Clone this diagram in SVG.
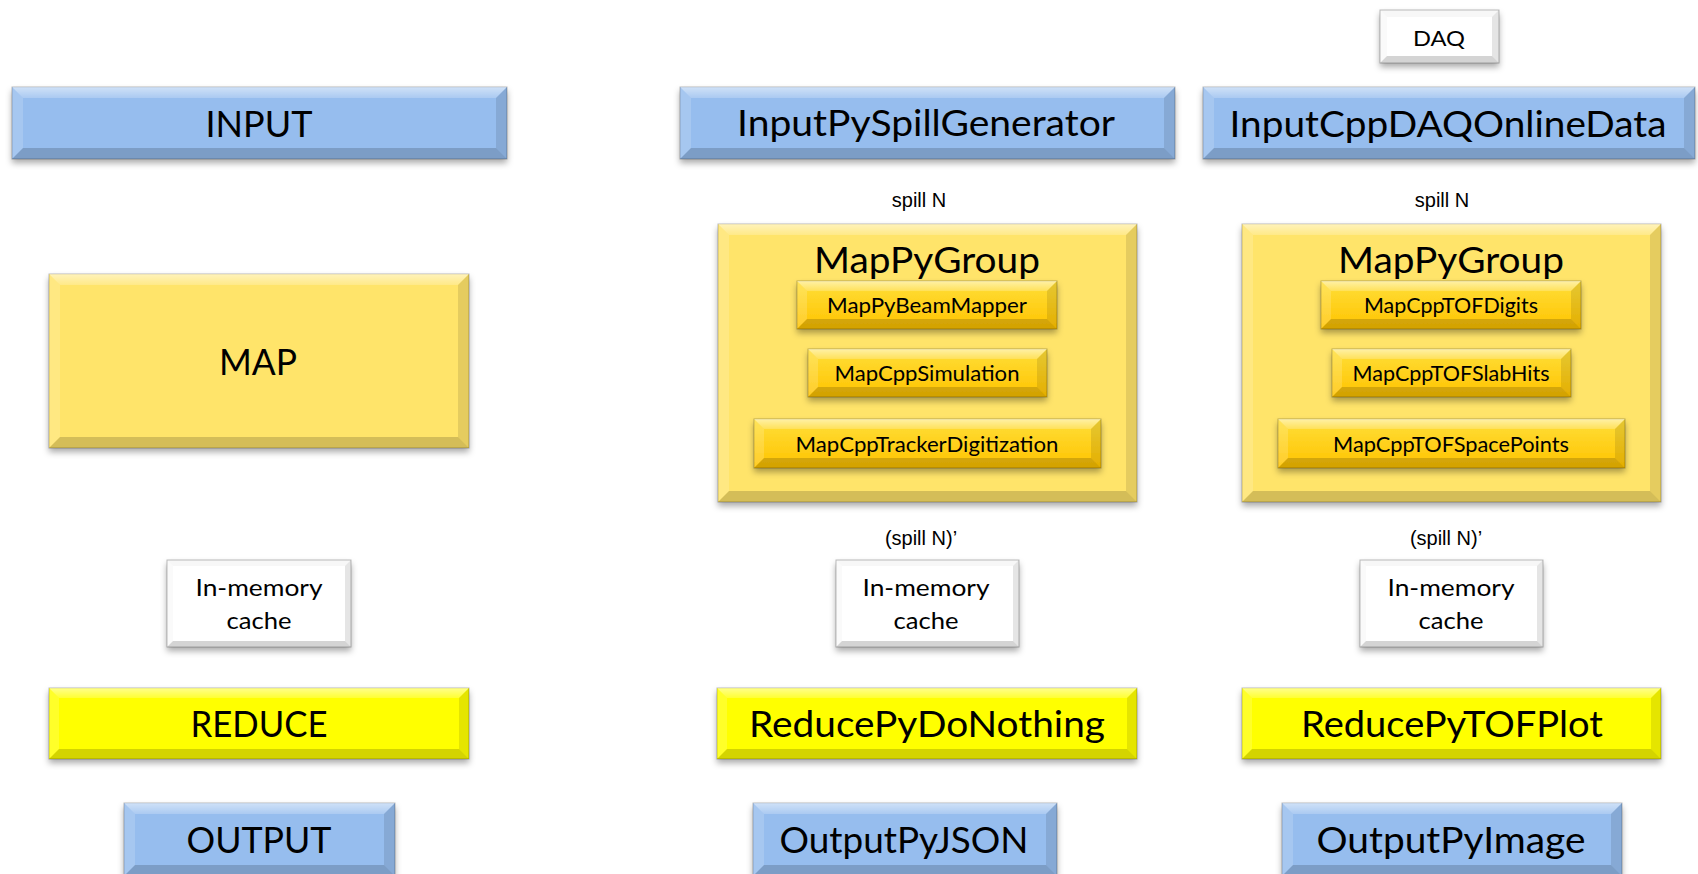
<svg xmlns="http://www.w3.org/2000/svg" width="1698" height="874" viewBox="0 0 1698 874">
<style>
.blue{fill:#96BDEE}
.gold{fill:#FFE46A}
.inner{fill:url(#gInner)}
.yel{fill:#FFFF00}
.white{fill:#FFFFFF}
.base{stroke:#000;stroke-opacity:.25;stroke-width:1;filter:url(#sh)}
.bt{fill:url(#gTop)}
.bl{fill:#fff;opacity:.16}
.br{fill:#000;opacity:.1}
.bb{fill:#000;opacity:.17}
.white-box .bt{fill:#000;opacity:.03}
.white-box .bl{fill:#000;opacity:.02}
.lbl{font-family:Lato,"Open Sans",sans-serif;fill:#000;text-anchor:middle}
.big{font-size:37px}
.sm{font-size:22px}
.mem{font-size:23.5px}
.daq{font-size:21px}
.note{font-family:"Liberation Sans",Arial,sans-serif;font-size:20px;fill:#000;text-anchor:middle}
</style>
<defs>
<linearGradient id="gInner" x1="0" y1="0" x2="0" y2="1">
<stop offset="0" stop-color="#FFDF3A"/>
<stop offset="1" stop-color="#FFC300"/>
</linearGradient>
<linearGradient id="gTop" x1="0" y1="0" x2="0" y2="1">
<stop offset="0" stop-color="#fff" stop-opacity=".55"/>
<stop offset="1" stop-color="#fff" stop-opacity=".2"/>
</linearGradient>
<filter id="sh" x="-10%" y="-20%" width="120%" height="160%">
<feDropShadow dx="0" dy="4" stdDeviation="3" flood-color="#000" flood-opacity="0.33"/>
</filter>
</defs>

<g id="n-input">
<rect class="base blue" x="12" y="87" width="495" height="72"/>
<path class="bt" d="M12,87 h495 l-11,11 h-473 z"/>
<path class="bl" d="M12,87 l11,11 v50 l-11,11 z"/>
<path class="br" d="M507,87 v72 l-11,-11 v-50 z"/>
<path class="bb" d="M12,159 l11,-11 h473 l11,11 z"/>
<text class="lbl big" x="259" y="137" textLength="107" lengthAdjust="spacingAndGlyphs">INPUT</text>
</g>

<g id="n-inputpy">
<rect class="base blue" x="680" y="87" width="495" height="72"/>
<path class="bt" d="M680,87 h495 l-11,11 h-473 z"/>
<path class="bl" d="M680,87 l11,11 v50 l-11,11 z"/>
<path class="br" d="M1175,87 v72 l-11,-11 v-50 z"/>
<path class="bb" d="M680,159 l11,-11 h473 l11,11 z"/>
<text class="lbl big" x="926" y="136" textLength="378" lengthAdjust="spacingAndGlyphs">InputPySpillGenerator</text>
</g>

<g id="n-inputdaq">
<rect class="base blue" x="1203" y="87" width="492" height="72"/>
<path class="bt" d="M1203,87 h492 l-11,11 h-470 z"/>
<path class="bl" d="M1203,87 l11,11 v50 l-11,11 z"/>
<path class="br" d="M1695,87 v72 l-11,-11 v-50 z"/>
<path class="bb" d="M1203,159 l11,-11 h470 l11,11 z"/>
<text class="lbl big" x="1448" y="137" textLength="437" lengthAdjust="spacingAndGlyphs">InputCppDAQOnlineData</text>
</g>

<g id="n-daq" class="white-box">
<rect class="base white" x="1380" y="10" width="119" height="53"/>
<path class="bt" d="M1380,10 h119 l-7,7 h-105 z"/>
<path class="bl" d="M1380,10 l7,7 v39 l-7,7 z"/>
<path class="br" d="M1499,10 v53 l-7,-7 v-39 z"/>
<path class="bb" d="M1380,63 l7,-7 h105 l7,7 z"/>
<text class="lbl daq" x="1439" y="46" textLength="52" lengthAdjust="spacingAndGlyphs">DAQ</text>
</g>

<g id="n-map">
<rect class="base gold" x="49" y="274" width="420" height="174"/>
<path class="bt" d="M49,274 h420 l-11,11 h-398 z"/>
<path class="bl" d="M49,274 l11,11 v152 l-11,11 z"/>
<path class="br" d="M469,274 v174 l-11,-11 v-152 z"/>
<path class="bb" d="M49,448 l11,-11 h398 l11,11 z"/>
<text class="lbl big" x="258" y="375" textLength="78" lengthAdjust="spacingAndGlyphs">MAP</text>
</g>

<g id="n-spill-mid">
<text class="note" x="919" y="207">spill N</text>
</g>
<g id="n-spill-right">
<text class="note" x="1442" y="207">spill N</text>
</g>

<g id="n-group-mid">
<rect class="base gold" x="718" y="224" width="419" height="278"/>
<path class="bt" d="M718,224 h419 l-11,11 h-397 z"/>
<path class="bl" d="M718,224 l11,11 v256 l-11,11 z"/>
<path class="br" d="M1137,224 v278 l-11,-11 v-256 z"/>
<path class="bb" d="M718,502 l11,-11 h397 l11,11 z"/>
<text class="lbl big" x="927" y="273" textLength="226" lengthAdjust="spacingAndGlyphs">MapPyGroup</text>
</g>

<g id="n-beammapper">
<rect class="base inner" x="797" y="281" width="260" height="48"/>
<path class="bt" d="M797,281 h260 l-10,10 h-240 z"/>
<path class="bl" d="M797,281 l10,10 v28 l-10,10 z"/>
<path class="br" d="M1057,281 v48 l-10,-10 v-28 z"/>
<path class="bb" d="M797,329 l10,-10 h240 l10,10 z"/>
<text class="lbl sm" x="927" y="313" textLength="200" lengthAdjust="spacingAndGlyphs">MapPyBeamMapper</text>
</g>

<g id="n-simulation">
<rect class="base inner" x="808" y="349" width="239" height="48"/>
<path class="bt" d="M808,349 h239 l-10,10 h-219 z"/>
<path class="bl" d="M808,349 l10,10 v28 l-10,10 z"/>
<path class="br" d="M1047,349 v48 l-10,-10 v-28 z"/>
<path class="bb" d="M808,397 l10,-10 h219 l10,10 z"/>
<text class="lbl sm" x="927" y="381" textLength="185" lengthAdjust="spacingAndGlyphs">MapCppSimulation</text>
</g>

<g id="n-trackerdig">
<rect class="base inner" x="754" y="419" width="347" height="49"/>
<path class="bt" d="M754,419 h347 l-10,10 h-327 z"/>
<path class="bl" d="M754,419 l10,10 v29 l-10,10 z"/>
<path class="br" d="M1101,419 v49 l-10,-10 v-29 z"/>
<path class="bb" d="M754,468 l10,-10 h327 l10,10 z"/>
<text class="lbl sm" x="927" y="452" textLength="263" lengthAdjust="spacingAndGlyphs">MapCppTrackerDigitization</text>
</g>

<g id="n-group-right">
<rect class="base gold" x="1242" y="224" width="419" height="278"/>
<path class="bt" d="M1242,224 h419 l-11,11 h-397 z"/>
<path class="bl" d="M1242,224 l11,11 v256 l-11,11 z"/>
<path class="br" d="M1661,224 v278 l-11,-11 v-256 z"/>
<path class="bb" d="M1242,502 l11,-11 h397 l11,11 z"/>
<text class="lbl big" x="1451" y="273" textLength="226" lengthAdjust="spacingAndGlyphs">MapPyGroup</text>
</g>

<g id="n-tofdigits">
<rect class="base inner" x="1321" y="281" width="260" height="48"/>
<path class="bt" d="M1321,281 h260 l-10,10 h-240 z"/>
<path class="bl" d="M1321,281 l10,10 v28 l-10,10 z"/>
<path class="br" d="M1581,281 v48 l-10,-10 v-28 z"/>
<path class="bb" d="M1321,329 l10,-10 h240 l10,10 z"/>
<text class="lbl sm" x="1451" y="313" textLength="174" lengthAdjust="spacingAndGlyphs">MapCppTOFDigits</text>
</g>

<g id="n-tofslabhits">
<rect class="base inner" x="1332" y="349" width="239" height="48"/>
<path class="bt" d="M1332,349 h239 l-10,10 h-219 z"/>
<path class="bl" d="M1332,349 l10,10 v28 l-10,10 z"/>
<path class="br" d="M1571,349 v48 l-10,-10 v-28 z"/>
<path class="bb" d="M1332,397 l10,-10 h219 l10,10 z"/>
<text class="lbl sm" x="1451" y="381" textLength="197" lengthAdjust="spacingAndGlyphs">MapCppTOFSlabHits</text>
</g>

<g id="n-tofspacepoints">
<rect class="base inner" x="1278" y="419" width="347" height="49"/>
<path class="bt" d="M1278,419 h347 l-10,10 h-327 z"/>
<path class="bl" d="M1278,419 l10,10 v29 l-10,10 z"/>
<path class="br" d="M1625,419 v49 l-10,-10 v-29 z"/>
<path class="bb" d="M1278,468 l10,-10 h327 l10,10 z"/>
<text class="lbl sm" x="1451" y="452" textLength="236" lengthAdjust="spacingAndGlyphs">MapCppTOFSpacePoints</text>
</g>

<g id="n-spillp-mid">
<text class="note" x="921" y="545">(spill N)’</text>
</g>
<g id="n-spillp-right">
<text class="note" x="1446" y="545">(spill N)’</text>
</g>

<g id="n-cache-left" class="white-box">
<rect class="base white" x="167" y="560" width="184" height="87"/>
<path class="bt" d="M167,560 h184 l-6,6 h-172 z"/>
<path class="bl" d="M167,560 l6,6 v75 l-6,6 z"/>
<path class="br" d="M351,560 v87 l-6,-6 v-75 z"/>
<path class="bb" d="M167,647 l6,-6 h172 l6,6 z"/>
<text class="lbl mem" x="259" y="596" textLength="127" lengthAdjust="spacingAndGlyphs">In-memory</text>
<text class="lbl mem" x="259" y="629" textLength="65" lengthAdjust="spacingAndGlyphs">cache</text>
</g>

<g id="n-cache-mid" class="white-box">
<rect class="base white" x="836" y="560" width="183" height="87"/>
<path class="bt" d="M836,560 h183 l-6,6 h-171 z"/>
<path class="bl" d="M836,560 l6,6 v75 l-6,6 z"/>
<path class="br" d="M1019,560 v87 l-6,-6 v-75 z"/>
<path class="bb" d="M836,647 l6,-6 h171 l6,6 z"/>
<text class="lbl mem" x="926" y="596" textLength="127" lengthAdjust="spacingAndGlyphs">In-memory</text>
<text class="lbl mem" x="926" y="629" textLength="65" lengthAdjust="spacingAndGlyphs">cache</text>
</g>

<g id="n-cache-right" class="white-box">
<rect class="base white" x="1360" y="560" width="183" height="87"/>
<path class="bt" d="M1360,560 h183 l-6,6 h-171 z"/>
<path class="bl" d="M1360,560 l6,6 v75 l-6,6 z"/>
<path class="br" d="M1543,560 v87 l-6,-6 v-75 z"/>
<path class="bb" d="M1360,647 l6,-6 h171 l6,6 z"/>
<text class="lbl mem" x="1451" y="596" textLength="127" lengthAdjust="spacingAndGlyphs">In-memory</text>
<text class="lbl mem" x="1451" y="629" textLength="65" lengthAdjust="spacingAndGlyphs">cache</text>
</g>

<g id="n-reduce">
<rect class="base yel" x="49" y="688" width="420" height="71"/>
<path class="bt" d="M49,688 h420 l-10,10 h-400 z"/>
<path class="bl" d="M49,688 l10,10 v51 l-10,10 z"/>
<path class="br" d="M469,688 v71 l-10,-10 v-51 z"/>
<path class="bb" d="M49,759 l10,-10 h400 l10,10 z"/>
<text class="lbl big" x="259" y="737" textLength="137" lengthAdjust="spacingAndGlyphs">REDUCE</text>
</g>

<g id="n-reduce-nothing">
<rect class="base yel" x="717" y="688" width="420" height="71"/>
<path class="bt" d="M717,688 h420 l-10,10 h-400 z"/>
<path class="bl" d="M717,688 l10,10 v51 l-10,10 z"/>
<path class="br" d="M1137,688 v71 l-10,-10 v-51 z"/>
<path class="bb" d="M717,759 l10,-10 h400 l10,10 z"/>
<text class="lbl big" x="927" y="737" textLength="356" lengthAdjust="spacingAndGlyphs">ReducePyDoNothing</text>
</g>

<g id="n-reduce-tof">
<rect class="base yel" x="1242" y="688" width="419" height="71"/>
<path class="bt" d="M1242,688 h419 l-10,10 h-399 z"/>
<path class="bl" d="M1242,688 l10,10 v51 l-10,10 z"/>
<path class="br" d="M1661,688 v71 l-10,-10 v-51 z"/>
<path class="bb" d="M1242,759 l10,-10 h399 l10,10 z"/>
<text class="lbl big" x="1452" y="737" textLength="302" lengthAdjust="spacingAndGlyphs">ReducePyTOFPlot</text>
</g>

<g id="n-output">
<rect class="base blue" x="124" y="803" width="271" height="73"/>
<path class="bt" d="M124,803 h271 l-11,11 h-249 z"/>
<path class="bl" d="M124,803 l11,11 v51 l-11,11 z"/>
<path class="br" d="M395,803 v73 l-11,-11 v-51 z"/>
<path class="bb" d="M124,876 l11,-11 h249 l11,11 z"/>
<text class="lbl big" x="259" y="853" textLength="145" lengthAdjust="spacingAndGlyphs">OUTPUT</text>
</g>

<g id="n-output-json">
<rect class="base blue" x="753" y="803" width="304" height="73"/>
<path class="bt" d="M753,803 h304 l-11,11 h-282 z"/>
<path class="bl" d="M753,803 l11,11 v51 l-11,11 z"/>
<path class="br" d="M1057,803 v73 l-11,-11 v-51 z"/>
<path class="bb" d="M753,876 l11,-11 h282 l11,11 z"/>
<text class="lbl big" x="904" y="853" textLength="249" lengthAdjust="spacingAndGlyphs">OutputPyJSON</text>
</g>

<g id="n-output-image">
<rect class="base blue" x="1282" y="803" width="340" height="73"/>
<path class="bt" d="M1282,803 h340 l-11,11 h-318 z"/>
<path class="bl" d="M1282,803 l11,11 v51 l-11,11 z"/>
<path class="br" d="M1622,803 v73 l-11,-11 v-51 z"/>
<path class="bb" d="M1282,876 l11,-11 h318 l11,11 z"/>
<text class="lbl big" x="1451" y="853" textLength="269" lengthAdjust="spacingAndGlyphs">OutputPyImage</text>
</g>

<g id="connectors"></g>
</svg>
